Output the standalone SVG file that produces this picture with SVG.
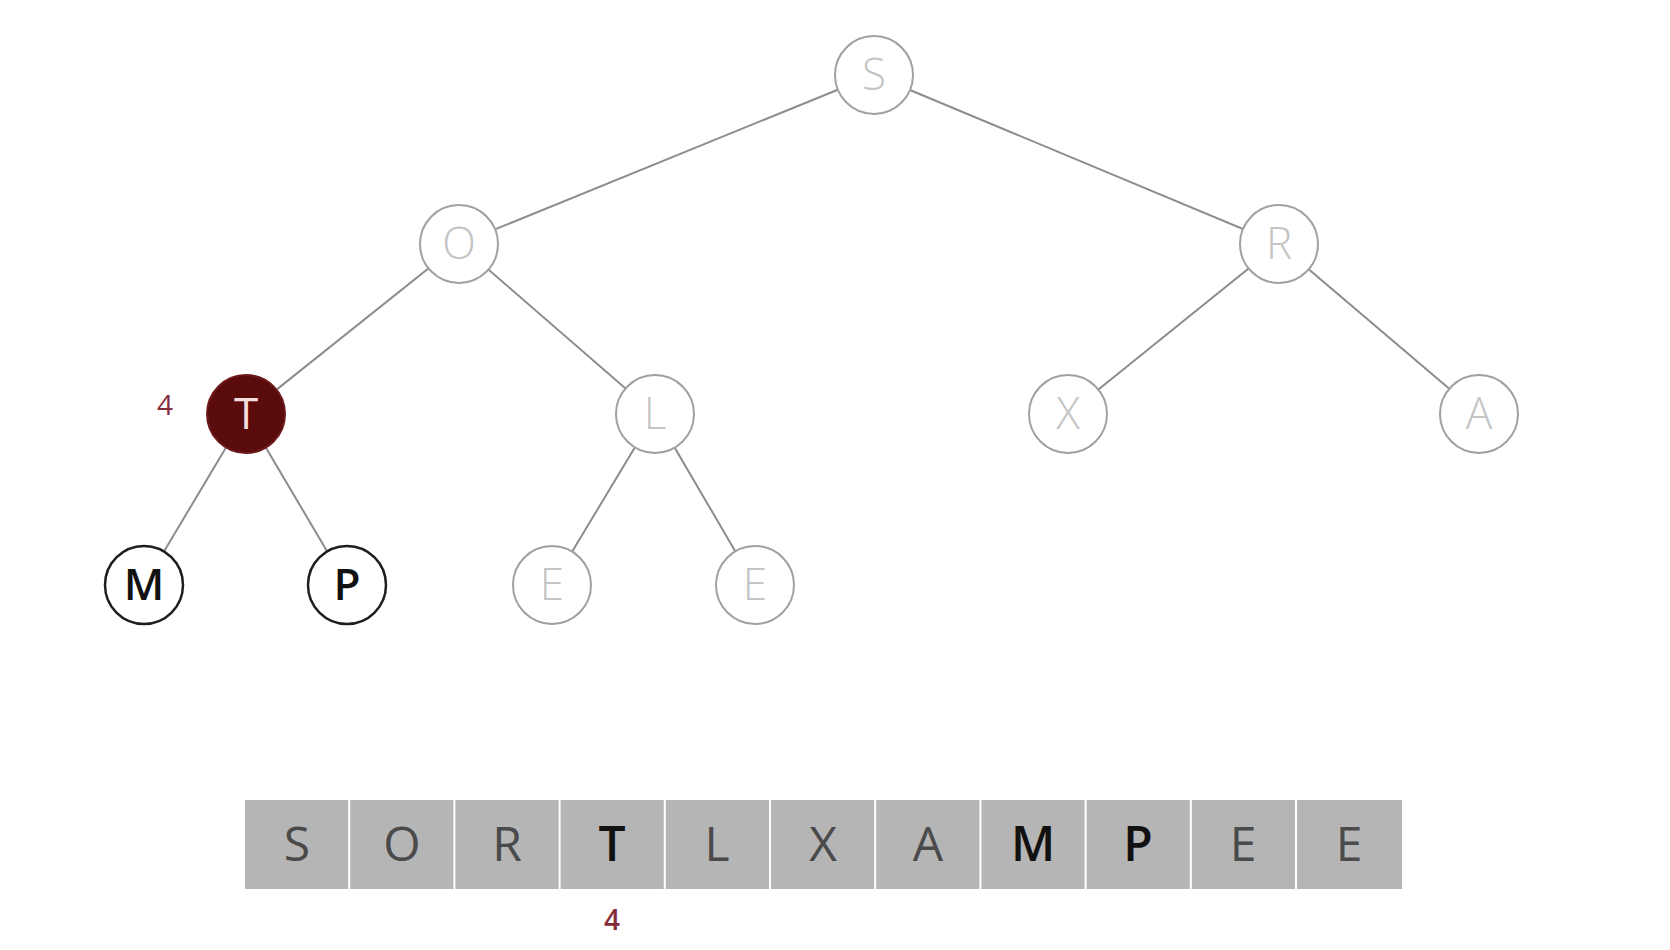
<svg xmlns="http://www.w3.org/2000/svg" width="1670" height="950" viewBox="0 0 1670 950">
<style>
.edge{stroke:#8c8c8c;stroke-width:2;fill:none}
.gc{fill:#fff;stroke:#a0a0a0;stroke-width:2}
.gt{font-family:"Open Sans","Liberation Sans",sans-serif;font-size:44px;fill:#c4c4c4;text-anchor:middle;font-weight:300}
.bc{fill:#fff;stroke:#1e1e1e;stroke-width:2.5}
.bt{font-family:"Open Sans","Liberation Sans",sans-serif;font-size:44px;fill:#111;text-anchor:middle;font-weight:600}
.cell{fill:#b5b5b5}
.at{font-family:"Open Sans","Liberation Sans",sans-serif;font-size:48px;fill:#4a4a4a;text-anchor:middle}
.ab{font-family:"Open Sans","Liberation Sans",sans-serif;font-size:48px;fill:#111;text-anchor:middle;font-weight:600}
.idx{font-family:"Open Sans","Liberation Sans",sans-serif;font-size:28px;fill:#852a3a;text-anchor:middle}
</style>
<rect width="1670" height="950" fill="#fff"/>
<g id="connectors">
<line class="edge" x1="874" y1="75" x2="459" y2="244"/>
<line class="edge" x1="874" y1="75" x2="1279" y2="244"/>
<line class="edge" x1="459" y1="244" x2="246" y2="414"/>
<line class="edge" x1="459" y1="244" x2="655" y2="414"/>
<line class="edge" x1="1279" y1="244" x2="1068" y2="414"/>
<line class="edge" x1="1279" y1="244" x2="1479" y2="414"/>
<line class="edge" x1="246" y1="414" x2="144" y2="585"/>
<line class="edge" x1="246" y1="414" x2="347" y2="585"/>
<line class="edge" x1="655" y1="414" x2="552" y2="585"/>
<line class="edge" x1="655" y1="414" x2="755" y2="585"/>
</g>
<g id="node-S"><circle class="gc" cx="874" cy="75" r="39"/><text class="gt" x="874" y="90">S</text></g>
<g id="node-O"><circle class="gc" cx="459" cy="244" r="39"/><text class="gt" x="459" y="259">O</text></g>
<g id="node-R"><circle class="gc" cx="1279" cy="244" r="39"/><text class="gt" x="1279" y="259">R</text></g>
<g id="node-T"><circle cx="246" cy="414" r="39" fill="#5a0b0b" stroke="#6e1a1a" stroke-width="2"/><text x="246" y="429" font-family="'Open Sans','Liberation Sans',sans-serif" font-size="44" fill="#f6dede" text-anchor="middle">T</text><text class="idx" x="165" y="415">4</text></g>
<g id="node-L"><circle class="gc" cx="655" cy="414" r="39"/><text class="gt" x="655" y="429">L</text></g>
<g id="node-X"><circle class="gc" cx="1068" cy="414" r="39"/><text class="gt" x="1068" y="429">X</text></g>
<g id="node-A"><circle class="gc" cx="1479" cy="414" r="39"/><text class="gt" x="1479" y="429">A</text></g>
<g id="node-M"><circle class="bc" cx="144" cy="585" r="39"/><text class="bt" x="144" y="600">M</text></g>
<g id="node-P"><circle class="bc" cx="347" cy="585" r="39"/><text class="bt" x="347" y="600">P</text></g>
<g id="node-E1"><circle class="gc" cx="552" cy="585" r="39"/><text class="gt" x="552" y="600">E</text></g>
<g id="node-E2"><circle class="gc" cx="755" cy="585" r="39"/><text class="gt" x="755" y="600">E</text></g>
<g id="array">
<rect class="cell" x="245" y="800" width="103.2" height="89"/>
<rect class="cell" x="350.2" y="800" width="103.2" height="89"/>
<rect class="cell" x="455.4" y="800" width="103.2" height="89"/>
<rect class="cell" x="560.6" y="800" width="103.2" height="89"/>
<rect class="cell" x="665.8" y="800" width="103.2" height="89"/>
<rect class="cell" x="771" y="800" width="103.2" height="89"/>
<rect class="cell" x="876.2" y="800" width="103.2" height="89"/>
<rect class="cell" x="981.4" y="800" width="103.2" height="89"/>
<rect class="cell" x="1086.6" y="800" width="103.2" height="89"/>
<rect class="cell" x="1191.8" y="800" width="103.2" height="89"/>
<rect class="cell" x="1297" y="800" width="105" height="89"/>
<text class="at" x="297" y="861">S</text>
<text class="at" x="402" y="861">O</text>
<text class="at" x="507" y="861">R</text>
<text class="ab" x="612" y="861">T</text>
<text class="at" x="717" y="861">L</text>
<text class="at" x="823" y="861">X</text>
<text class="at" x="928" y="861">A</text>
<text class="ab" x="1033" y="861">M</text>
<text class="ab" x="1138" y="861">P</text>
<text class="at" x="1243" y="861">E</text>
<text class="at" x="1349" y="861">E</text>
<text class="idx" x="612" y="930" font-weight="600" fill="#7a2a48">4</text>
</g>
</svg>
